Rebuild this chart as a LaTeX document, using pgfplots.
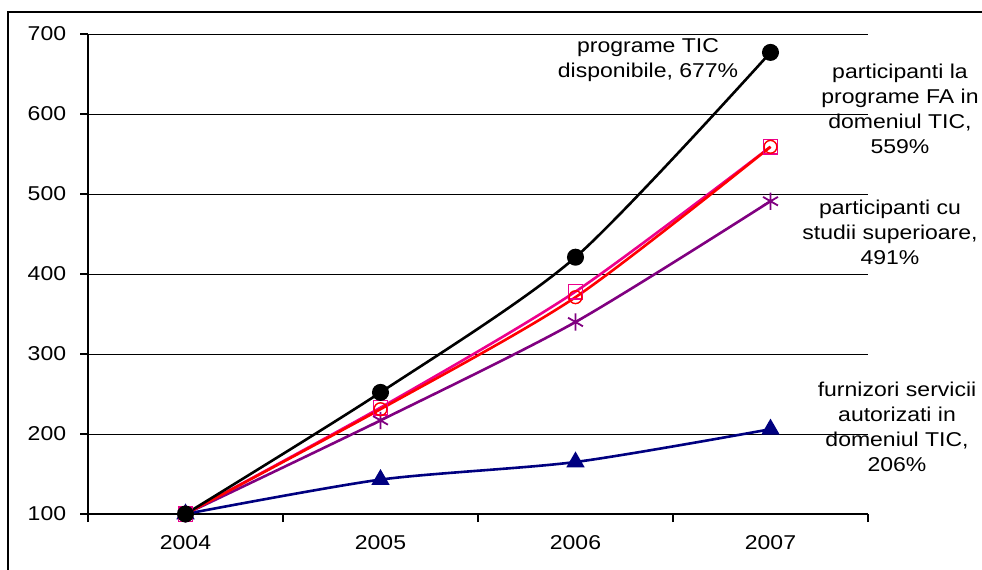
\documentclass[border=0pt]{standalone}
\usepackage{pgfplots}
\pgfplotsset{compat=1.18}
\usepackage{fontspec}
\setmainfont{Liberation Sans}
\definecolor{navyx}{RGB}{0,0,128}
\definecolor{purplex}{RGB}{128,0,128}
\begin{document}
\begin{tikzpicture}[font=\fontsize{10}{12.5}\selectfont, every node/.append style={xscale=1.15}]
\begin{axis}[
  width=390pt, height=240pt, scale only axis,
  xmin=-0.5, xmax=3.5, ymin=100, ymax=700,
  xtick={-0.5,0.5,1.5,2.5,3.5}, xticklabels={,,,,},
  extra x ticks={0,1,2,3},
  extra x tick labels={2004,2005,2006,2007},
  extra x tick style={major tick length=0pt},
  ytick={100,200,...,700},
  tick align=outside, major tick length=4pt,
  ymajorgrids, grid style={black, line width=0.5pt},
  axis x line*=bottom, axis y line*=left,
  axis line style={-, line width=0.6pt},
  tick style={black, line width=0.6pt},
  yticklabel style={xshift=-2.5pt},
  xticklabel style={yshift=-7pt},
  /pgf/number format/assume math mode=true,
  clip=false,
  every axis plot/.append style={line width=1.3pt, smooth, tension=0.45},
]
\addplot[navyx, mark=triangle*, mark size=4pt] coordinates {(0,100) (1,143) (2,165) (3,206)};
\addplot[purplex, mark=asterisk, mark size=4.3pt, mark options={line width=0.9pt}] coordinates {(0,100) (1,217) (2,340) (3,491)};
\addplot[magenta, mark=square, mark size=3.6pt, mark options={line width=0.7pt}] coordinates {(0,100) (1,233) (2,378) (3,559)};
\addplot[red, mark=o, mark size=3.2pt, mark options={line width=0.7pt}] coordinates {(0,100) (1,231) (2,371) (3,559)};
\addplot[black, mark=*, mark size=3.6pt] coordinates {(0,100) (1,252) (2,421) (3,677)};

\node[align=center] at (axis cs:2.372,667) {programe TIC\\disponibile, 677\%};
\node[align=center] at (axis cs:3.664,607) {participanti la\\programe FA in\\domeniul TIC,\\559\%};
\node[align=center] at (axis cs:3.613,452) {participanti cu\\studii superioare,\\491\%};
\node[align=center] at (axis cs:3.649,209) {furnizori servicii\\autorizati in\\domeniul TIC,\\206\%};
\end{axis}
\draw[line width=1pt] ([shift={(-40pt,-60pt)}]current axis.south west) rectangle ([shift={(500pt,251pt)}]current axis.south west);
\pgfresetboundingbox
\path[use as bounding box] ([shift={(-44pt,-27.5pt)}]current axis.south west) rectangle ([shift={(447pt,257pt)}]current axis.south west);
\end{tikzpicture}
\end{document}
